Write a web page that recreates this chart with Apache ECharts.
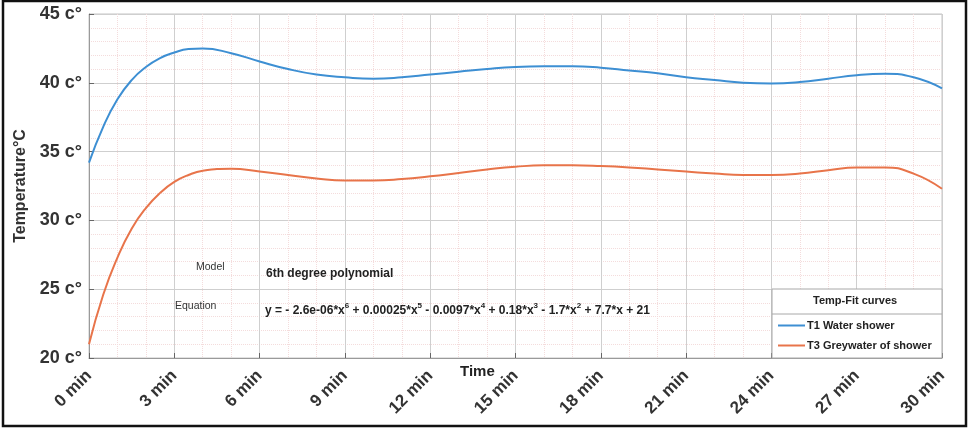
<!DOCTYPE html>
<html>
<head>
<meta charset="utf-8">
<script src="https://cdn.jsdelivr.net/npm/echarts@6/dist/echarts.min.js"></script>
<style>
  html, body { margin: 0; padding: 0; background: #fff; }
  #main { width: 974px; height: 428px; }
</style>
</head>
<body>
<div id="main"></div>
<script>
// time in minutes
var times = [0, 0.5, 1, 1.5, 2, 2.5, 3, 3.5, 4, 5, 6, 7, 8, 9, 10, 11, 12, 13, 14, 15, 16, 17, 18, 19, 20, 21, 22, 23, 24, 25, 26, 27, 28, 29, 30];
// T1 Water shower
var t1 = [34.2, 36.8, 38.8, 40.2, 41.15, 41.8, 42.2, 42.45, 42.5, 42.15, 41.55, 41.0, 40.6, 40.4, 40.3, 40.4, 40.6, 40.8, 41.0, 41.15, 41.2, 41.2, 41.1, 40.9, 40.7, 40.4, 40.2, 40.0, 39.95, 40.05, 40.3, 40.55, 40.65, 40.4, 39.6];
// T3 Greywater of shower
var t3 = [21.0, 24.6, 27.3, 29.4, 30.9, 32.0, 32.8, 33.3, 33.6, 33.75, 33.55, 33.3, 33.05, 32.9, 32.9, 33.0, 33.2, 33.45, 33.7, 33.9, 34.0, 34.0, 33.95, 33.85, 33.7, 33.55, 33.4, 33.3, 33.3, 33.4, 33.65, 33.85, 33.85, 33.4, 32.3];
var seriesNames = ['T1 Water shower', 'T3 Greywater of shower'];
var xTicks = [0, 30, 3];   // min, max, interval
var yTicks = [20, 45, 5];

function pairs(ys) {
  return times.map(function (t, i) { return [t, ys[i]]; });
}

var font = 'Liberation Sans, Arial, sans-serif';
var myChart = echarts.init(document.getElementById('main'));

var option = {
  backgroundColor: '#fff',
  animation: false,
  color: ['#3d8fd3', '#e8744a'],
  grid: {
    left: 89, top: 14, right: 32, bottom: 70,
    show: true, borderColor: '#c4c4c4', borderWidth: 1
  },
  xAxis: {
    type: 'value',
    min: xTicks[0], max: xTicks[1], interval: xTicks[2],
    axisLine: { show: true, lineStyle: { color: '#9a9a9a' } },
    axisTick: { show: true, inside: true, length: 5, lineStyle: { color: '#666' } },
    axisLabel: {
      formatter: '{value} min', rotate: 45, margin: 15,
      fontFamily: font, fontWeight: 'bold', fontSize: 17, color: '#333'
    },
    splitLine: { show: true, lineStyle: { color: '#cfcfcf', width: 1 } },
    minorTick: { show: false, splitNumber: 3 },
    minorSplitLine: { show: true, lineStyle: { color: '#f4dcdc', type: 'dotted' } }
  },
  yAxis: {
    type: 'value',
    min: yTicks[0], max: yTicks[1], interval: yTicks[2],
    name: 'Temperature°C', nameLocation: 'middle', nameGap: 52,
    nameTextStyle: { fontFamily: font, fontWeight: 'bold', fontSize: 16, color: '#333' },
    axisLine: { show: true, lineStyle: { color: '#9a9a9a' } },
    axisTick: { show: true, inside: true, length: 5, lineStyle: { color: '#666' } },
    axisLabel: {
      formatter: '{value} c°', margin: 7,
      fontFamily: font, fontWeight: 'bold', fontSize: 18, color: '#333'
    },
    splitLine: { show: true, lineStyle: { color: '#cfcfcf', width: 1 } },
    minorTick: { show: false, splitNumber: 5 },
    minorSplitLine: { show: true, lineStyle: { color: '#f4dcdc', type: 'dotted' } }
  },
  legend: {
    orient: 'vertical',
    left: 778, top: 320,
    itemWidth: 27, itemHeight: 2, itemGap: 9, padding: 0,
    icon: 'rect',
    textStyle: { fontFamily: font, fontWeight: 'bold', fontSize: 11, color: '#222', padding: [0, 0, 0, -3] },
    data: seriesNames
  },
  series: [
    {
      name: seriesNames[0], type: 'line', smooth: 0.5, showSymbol: false,
      lineStyle: { width: 2 }, data: pairs(t1), z: 3
    },
    {
      name: seriesNames[1], type: 'line', smooth: 0.5, showSymbol: false,
      lineStyle: { width: 2 }, data: pairs(t3), z: 3
    }
  ],
  graphic: [
    // outer frame
    { type: 'rect', shape: { x: 3, y: 1, width: 963, height: 425 },
      style: { fill: 'none', stroke: '#111', lineWidth: 2.5 }, z: 100 },
    // legend box
    { type: 'rect', shape: { x: 772, y: 289, width: 170, height: 69 },
      style: { fill: '#fff', stroke: '#a8a8a8', lineWidth: 1 }, z: 1 },
    { type: 'line', shape: { x1: 772, y1: 314, x2: 942, y2: 314 },
      style: { stroke: '#a8a8a8', lineWidth: 1 }, z: 2 },
    { type: 'text', left: 813, top: 295,
      style: { text: 'Temp-Fit curves', font: 'bold 11px ' + font, fill: '#222' }, z: 2 },
    // x axis title
    { type: 'text', left: 460, top: 364,
      style: { text: 'Time', font: 'bold 15px ' + font, fill: '#222' }, z: 5 },
    // fit annotations
    { type: 'text', left: 196, top: 262,
      style: { text: 'Model', font: '10.5px ' + font, fill: '#333' }, z: 5 },
    { type: 'text', left: 266, top: 268,
      style: { text: '6th degree polynomial', font: 'bold 12px ' + font, fill: '#222' }, z: 5 },
    { type: 'text', left: 175, top: 301,
      style: { text: 'Equation', font: '10.5px ' + font, fill: '#333' }, z: 5 },
    { type: 'text', left: 265, top: 302,
      style: {
        text: 'y = - 2.6e-06*x{s|6} + 0.00025*x{s|5} - 0.0097*x{s|4} + 0.18*x{s|3} - 1.7*x{s|2} + 7.7*x + 21',
        font: 'bold 12px ' + font, fill: '#222',
        rich: { s: { fontSize: 8, fontWeight: 'bold', fontFamily: font, fill: '#222', padding: [0, 0, 9, 0] } }
      }, z: 5 }
  ]
};

myChart.setOption(option);
</script>
</body>
</html>
